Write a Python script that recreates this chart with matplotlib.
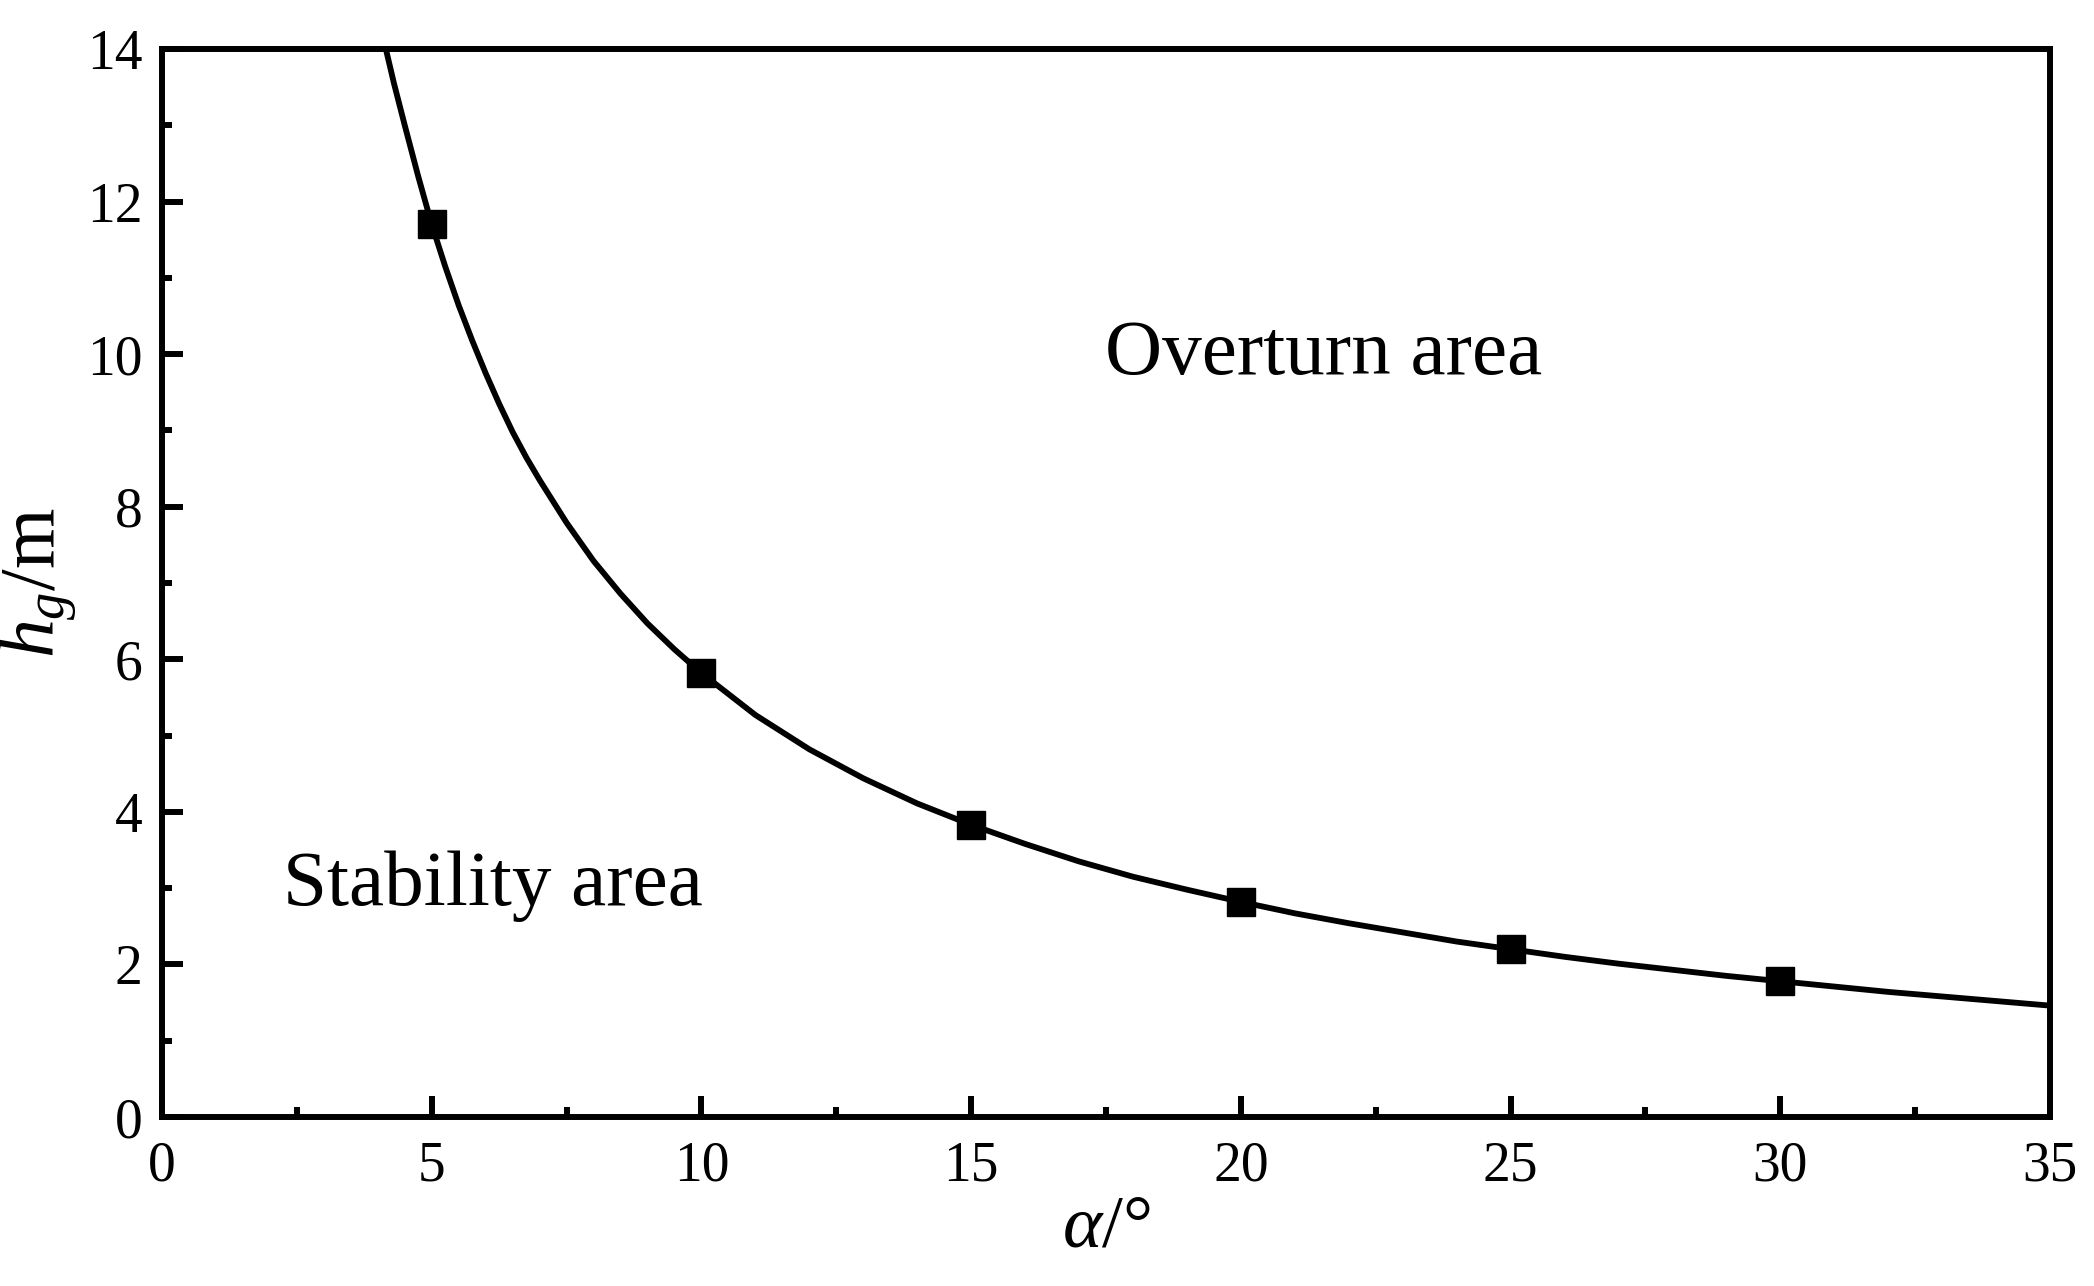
import matplotlib
matplotlib.use("Agg")
import matplotlib.pyplot as plt
from matplotlib.ticker import MultipleLocator

plt.rcParams['font.family'] = ['Liberation Serif', 'DejaVu Serif']
plt.rcParams['mathtext.fontset'] = 'custom'
plt.rcParams['mathtext.rm'] = 'Liberation Serif'
plt.rcParams['mathtext.it'] = 'Liberation Serif:italic'

# measured points
alpha_pts = [5, 10, 15, 20, 25, 30]
h_pts = [11.7, 5.82, 3.83, 2.82, 2.2, 1.78]

# fitted curve
alpha_curve = [4.15, 4.3, 4.5, 4.75, 5, 5.25, 5.5, 5.75, 6, 6.25, 6.5, 6.75, 7, 7.5, 8,
               8.5, 9, 9.5, 10, 11, 12, 13, 14, 15, 16, 17, 18, 19, 20, 21, 22, 23, 24,
               25, 26, 27, 28, 29, 30, 31, 32, 33, 34, 35]
h_curve = [14.0, 13.55, 13.0, 12.33, 11.7, 11.15, 10.64, 10.18, 9.75, 9.35, 8.98, 8.65,
           8.35, 7.79, 7.29, 6.86, 6.47, 6.13, 5.82, 5.27, 4.82, 4.44, 4.11, 3.83, 3.58,
           3.35, 3.15, 2.98, 2.82, 2.67, 2.54, 2.42, 2.30, 2.20, 2.10, 2.01, 1.93, 1.85,
           1.78, 1.71, 1.64, 1.58, 1.52, 1.46]

fig = plt.figure(figsize=(20.94, 12.86), dpi=100)
ax = fig.add_axes([162/2094, 1 - 1117/1286, (2050-162)/2094, (1117-49)/1286])

ax.plot(alpha_curve, h_curve, color='black', lw=4.2, zorder=2,
        solid_joinstyle='round')
ax.plot(alpha_pts, h_pts, linestyle='none', marker='s', color='black',
        markersize=20, zorder=3)

ax.set_xlim(0, 35)
ax.set_ylim(0, 14)
ax.xaxis.set_major_locator(MultipleLocator(5))
ax.xaxis.set_minor_locator(MultipleLocator(2.5))
ax.yaxis.set_major_locator(MultipleLocator(2))
ax.yaxis.set_minor_locator(MultipleLocator(1))
ax.tick_params(which='both', direction='in', width=4.3, labelsize=40,
               top=False, right=False)
ax.tick_params(which='major', length=15)
ax.tick_params(axis='x', which='major', pad=17)
ax.tick_params(axis='y', which='major', pad=14)
ax.tick_params(which='minor', length=7)
for s in ax.spines.values():
    s.set_linewidth(4.3)

ax.set_xlabel(r'$\alpha$/°', fontsize=54, labelpad=2)
ax.set_ylabel(r'$h_g$/m', fontsize=56, labelpad=6)

ax.text(17.48, 9.74, 'Overturn area', fontsize=57, va='baseline', ha='left')
ax.text(2.24, 2.78, 'Stability area', fontsize=57, va='baseline', ha='left')

fig.savefig('out.png', dpi=100)
